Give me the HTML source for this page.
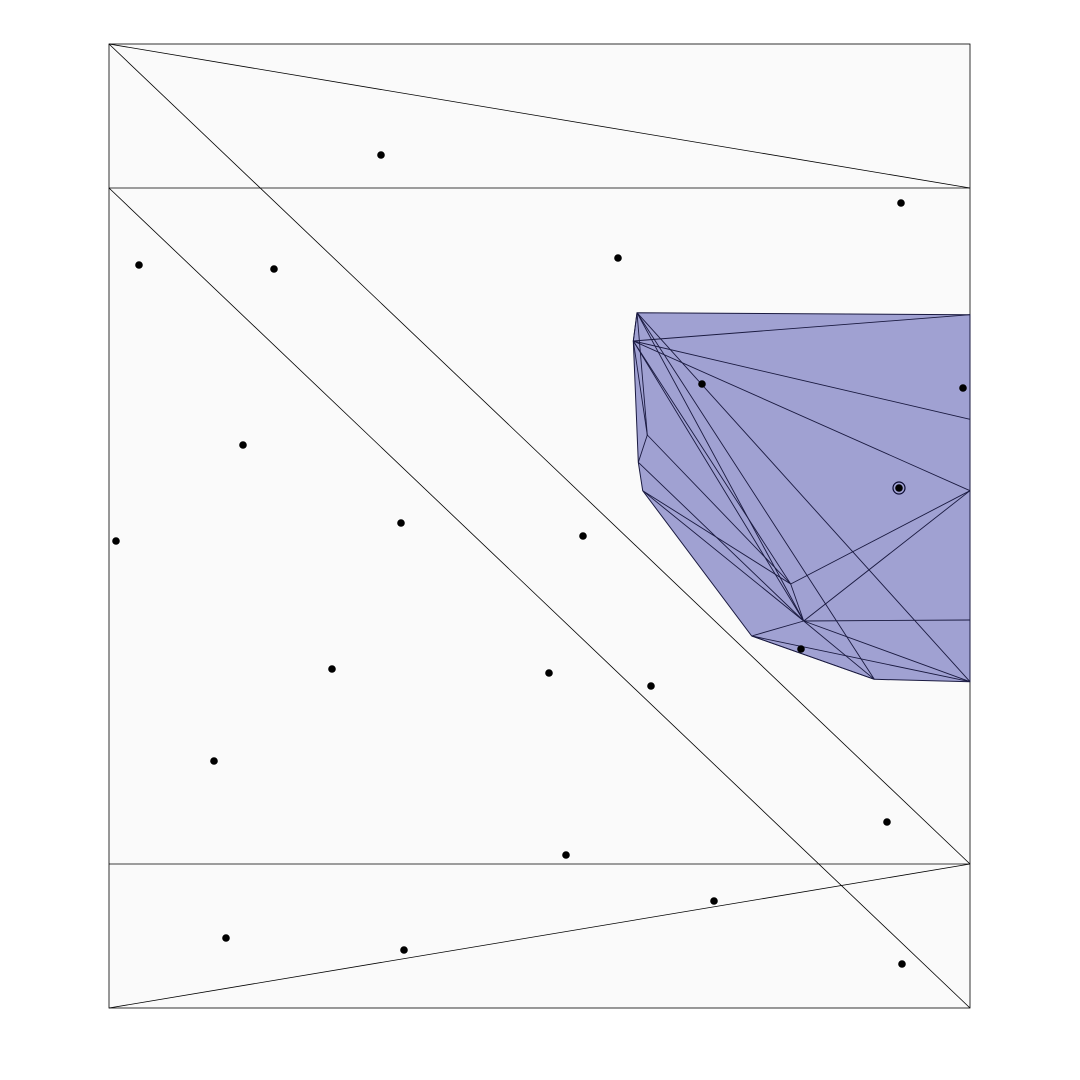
<!DOCTYPE html>
<html><head><meta charset="utf-8"><style>
html,body{margin:0;padding:0;background:#fff;}
svg{display:block;}
</style></head><body>
<svg id="chart" width="1080" height="1080" viewBox="0 0 1080 1080" xmlns="http://www.w3.org/2000/svg">
<rect x="109" y="44" width="861" height="964" fill="#fafafa" stroke="#000" stroke-width="0.8"/>
<g id="grid" stroke="#000" stroke-width="0.8" fill="none">
<line x1="109" y1="188" x2="970" y2="188"/>
<line x1="109" y1="864" x2="970" y2="864"/>
<line x1="109" y1="44" x2="970" y2="188"/>
<line x1="109" y1="44" x2="970" y2="864"/>
<line x1="109" y1="188" x2="970" y2="1008"/>
<line x1="109" y1="1008" x2="970" y2="864"/>
</g>
<g id="region"></g>
<g id="pts"></g>
</svg>
<script>
const verts = {A:[637,312.7],B:[633.3,341],C:[970,314.7],D:[970,419.3],E:[970,490.7],F:[970,620],G:[970,681.7],H:[874.3,679.3],I:[751.7,636],J:[642.7,490.7],K:[638.3,462.3],L:[647.3,435],M:[790.7,584],N:[803.7,621]};
const boundary = ["A","C","D","E","F","G","H","I","J","K","B"];
const edges = [["A","B"],["B","C"],["B","D"],["B","E"],["A","G"],["A","H"],["A","N"],["B","M"],["B","N"],["B","L"],["A","L"],["L","K"],["L","M"],["K","N"],["J","N"],["J","M"],["M","N"],["M","E"],["N","E"],["N","F"],["I","N"],["N","H"],["N","G"],["I","G"],["I","H"]];
const px = [381,901,139,274,618,702,963,243,401,116,583,899,332,549,651,801,214,887,566,714,226,404,902];
const py = [155,203,265,269,258,384,388,445,523,541,536,488,669,673,686,649,761,822,855,901,938,950,964];
const circled = [11];
const NS="http://www.w3.org/2000/svg";
const reg=document.getElementById('region');
const poly=document.createElementNS(NS,'polygon');


poly.setAttribute('points',boundary.map(k=>verts[k].join(',')).join(' '));
poly.setAttribute('fill','#a0a1d2');poly.setAttribute('stroke','#1a1a40');poly.setAttribute('stroke-width','1');
reg.appendChild(poly);
edges.forEach(e=>{const l=document.createElementNS(NS,'line');


l.setAttribute('x1',verts[e[0]][0]);l.setAttribute('y1',verts[e[0]][1]);l.setAttribute('x2',verts[e[1]][0]);l.setAttribute('y2',verts[e[1]][1]);
l.setAttribute('stroke','#1a1a40');l.setAttribute('stroke-width','0.9');reg.appendChild(l);});
const pg=document.getElementById('pts');
px.forEach((x,i)=>{
 if(circled.includes(i)){const r=document.createElementNS(NS,'circle');
 
 
 r.setAttribute('cx',x);r.setAttribute('cy',py[i]);r.setAttribute('r',6);r.setAttribute('fill','none');r.setAttribute('stroke','#0a0a30');r.setAttribute('stroke-width','1.2');pg.appendChild(r);}
 const c=document.createElementNS(NS,'circle');
 
 
 c.setAttribute('cx',x);c.setAttribute('cy',py[i]);c.setAttribute('r',3.8);c.setAttribute('fill','#000');pg.appendChild(c);});
</script>
</body></html>
